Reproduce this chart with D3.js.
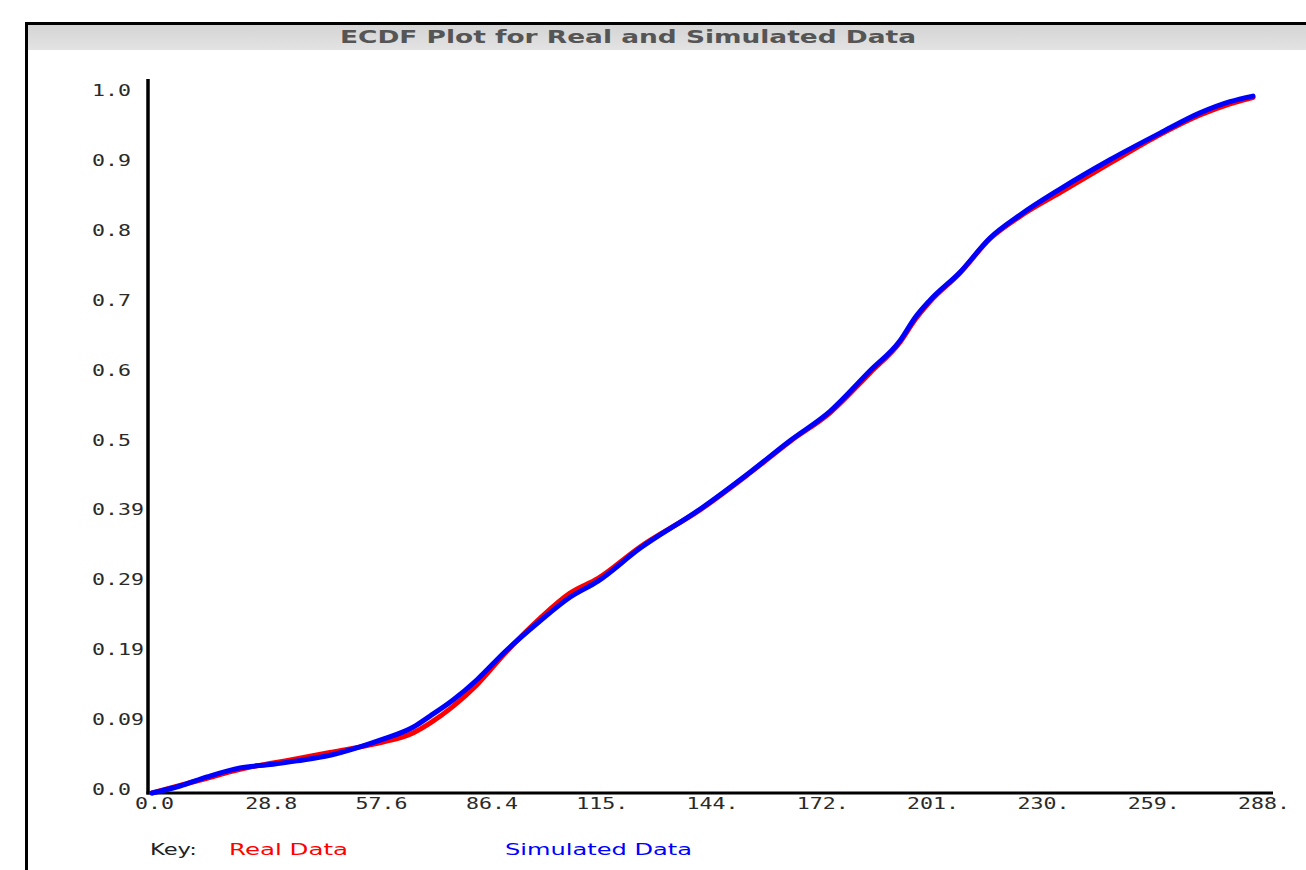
<!DOCTYPE html>
<html><head><meta charset="utf-8">
<script src="https://cdn.jsdelivr.net/npm/d3@7"></script>
<style>html,body{margin:0;padding:0;background:#fff;overflow:hidden}</style>
</head><body>
<script>
// ---- data ----
const chartTitle = "ECDF Plot for Real and Simulated Data";
const xTickValues = [0, 28.8, 57.6, 86.4, 115.2, 144, 172.8, 201.6, 230.4, 259.2, 288];
const xTickLabels = ["0.0","28.8","57.6","86.4","115.","144.","172.","201.","230.","259.","288."];
const yTickValues = [0,0.1,0.2,0.3,0.4,0.5,0.6,0.7,0.8,0.9,1.0];
const yTickLabels = ["0.0","0.09","0.19","0.29","0.39","0.5","0.6","0.7","0.8","0.9","1.0"];
const sampleX = [0.52,7.83,14.88,23.50,32.12,38.38,47.00,54.83,60.84,68.67,73.11,79.12,85.38,92.69,101.83,109.67,116.98,127.94,143.61,156.67,167.11,177.56,188.00,195.83,199.75,203.67,211.50,219.33,227.17,237.61,250.67,263.72,274.17,282.00,288.00];
const realF = [0.000,0.011,0.021,0.034,0.043,0.049,0.058,0.066,0.073,0.086,0.100,0.124,0.155,0.200,0.250,0.286,0.307,0.352,0.405,0.458,0.503,0.544,0.601,0.645,0.677,0.703,0.744,0.793,0.825,0.859,0.901,0.942,0.970,0.986,0.995];
const simF  = [0.000,0.010,0.023,0.036,0.041,0.046,0.054,0.066,0.077,0.094,0.110,0.133,0.162,0.202,0.246,0.280,0.303,0.350,0.406,0.459,0.504,0.546,0.604,0.647,0.680,0.705,0.745,0.794,0.827,0.864,0.906,0.944,0.973,0.989,0.997];
const seriesNames = ["Real Data","Simulated Data"];
const seriesColors = ["#ff0000","#0000ff"];

const W = 1306, H = 870;
const svg = d3.select("body").append("svg").attr("width", W).attr("height", H);

// frame + title bar
const defs = svg.append("defs");
const g1 = defs.append("linearGradient").attr("id","tb").attr("x1",0).attr("y1",0).attr("x2",0).attr("y2",1);
g1.append("stop").attr("offset","0%").attr("stop-color","#d4d4d4");
g1.append("stop").attr("offset","100%").attr("stop-color","#e3e3e3");
svg.append("rect").attr("x",28).attr("y",25).attr("width",W-28).attr("height",25).attr("fill","url(#tb)");
svg.append("rect").attr("x",25).attr("y",22).attr("width",W-25).attr("height",3).attr("fill","#000");
svg.append("rect").attr("x",25).attr("y",22).attr("width",3).attr("height",H-22).attr("fill","#000");
svg.append("text").attr("x",340).attr("y",43).attr("font-family","DejaVu Sans").attr("font-weight","bold")
  .attr("font-size",17).attr("fill","#555").attr("textLength",576).attr("lengthAdjust","spacingAndGlyphs")
  .text(chartTitle);

// scales
const x = d3.scaleLinear().domain([0,288]).range([150,1253]);
const y = d3.scaleLinear().domain([0,1]).range([793,94]);

// axes lines
svg.append("line").attr("x1",148).attr("x2",148).attr("y1",79).attr("y2",794.5).attr("stroke","#000").attr("stroke-width",3.5);
svg.append("line").attr("x1",146.5).attr("x2",1273).attr("y1",793).attr("y2",793).attr("stroke","#000").attr("stroke-width",3);

const lab = svg.append("g").attr("font-family","DejaVu Sans Mono").attr("font-size",16).attr("fill","#2a2a2a");
yTickValues.forEach((v,i)=>{
  lab.append("text").attr("transform",`translate(92,${y(v)+2}) scale(1.35,1)`).text(yTickLabels[i]);
});
xTickValues.forEach((v,i)=>{
  lab.append("text").attr("transform",`translate(${x(v)-15},809) scale(1.35,1)`).text(xTickLabels[i]);
});

// series
const line = d3.line().x(d=>x(d[0])).y(d=>y(d[1])).curve(d3.curveMonotoneX);
[realF, simF].forEach((F,k)=>{
  const pts = sampleX.map((xv,i)=>[xv,F[i]]);
  svg.append("path").attr("d",line(pts)).attr("fill","none").attr("stroke",seriesColors[k])
    .attr("stroke-width",5).attr("stroke-linejoin","round").attr("stroke-linecap","round");
});

// legend
const lg = svg.append("g").attr("font-family","DejaVu Sans").attr("font-size",15);
lg.append("text").attr("x",150).attr("y",855).attr("fill","#222").attr("textLength",47).attr("lengthAdjust","spacingAndGlyphs").text("Key:");
lg.append("text").attr("x",229).attr("y",855).attr("fill",seriesColors[0]).attr("textLength",119).attr("lengthAdjust","spacingAndGlyphs").text(seriesNames[0]);
lg.append("text").attr("x",505).attr("y",855).attr("fill",seriesColors[1]).attr("textLength",187).attr("lengthAdjust","spacingAndGlyphs").text(seriesNames[1]);
</script>
</body></html>
